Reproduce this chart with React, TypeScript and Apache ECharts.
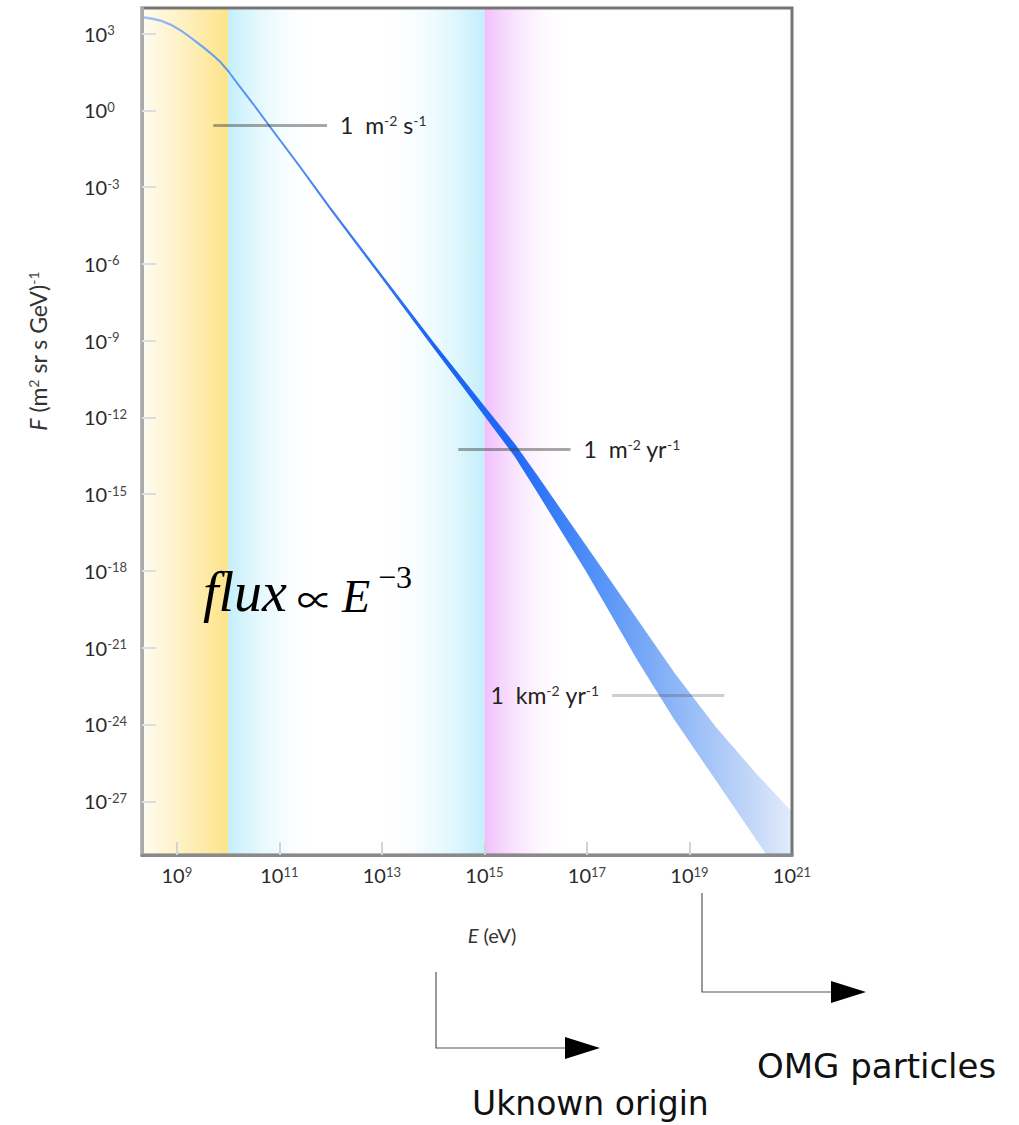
import React, { useEffect, useRef } from "react";
import * as echarts from "echarts";

// log10(E / eV)
const energyLog = [8.32, 8.5, 8.7, 8.9, 9.1, 9.3, 9.5, 9.7, 9.85, 10.0, 10.2, 10.5, 10.8, 11.4, 12, 13, 14, 14.5, 15, 15.6, 16, 17, 18, 18.7, 19.5, 20.3, 21];
// log10 of flux band edges (m^-2 sr^-1 s^-1 GeV^-1)
const fluxLowLog = [3.62, 3.57, 3.48, 3.31, 3.07, 2.78, 2.47, 2.14, 1.87, 1.52, 0.98, 0.2, -0.62, -2.22, -3.88, -6.54, -9.23, -10.56, -11.9, -13.51, -14.78, -18.03, -21.5, -23.75, -26.1, -28.45, -30.5];
const fluxHighLog = [3.66, 3.61, 3.52, 3.35, 3.11, 2.82, 2.51, 2.18, 1.91, 1.56, 1.02, 0.24, -0.58, -2.18, -3.82, -6.46, -9.08, -10.34, -11.6, -13.09, -14.22, -17.1, -19.98, -22.0, -24.1, -25.95, -27.45];

const yTickExps = [3, 0, -3, -6, -9, -12, -15, -18, -21, -24, -27];
const xTickExps = [9, 11, 13, 15, 17, 19];
const xLabelExps = [9, 11, 13, 15, 17, 19, 21];

// energy regions (log10 E)
const yellowBand = [8.32, 10];
const cyanFadeBand = [10, 11.8];
const cyanRiseBand = [12.9, 15];
const pinkBand = [15, 16.7];

// rate reference lines
const rateLabels = ["{t|1  m}{u|-2}{t| s}{u|-1}", "{t|1  m}{u|-2}{t| yr}{u|-1}", "{t|1  km}{u|-2}{t| yr}{u|-1}"];
const rateFluxLog = [-0.58, -13.24, -22.85];
const rateFrom = [9.71, 14.49, 17.49];
const rateTo = [11.93, 16.68, 19.68];

const X_MIN = 8.32;
const X_MAX = 21;
const Y_MIN = -29.1;
const Y_MAX = 4;

export default function App() {
  const ref = useRef<HTMLDivElement>(null);

  useEffect(() => {
    const chart = echarts.init(ref.current!, null, { renderer: "svg" });
    const hGrad = (stops: { offset: number; color: string }[]) =>
      new echarts.graphic.LinearGradient(0, 0, 1, 0, stops);
    const bandStops = () => [
      { offset: 0, color: "#a3c2f4" },
      { offset: 0.13, color: "#6097f1" },
      { offset: 0.29, color: "#4483f2" },
      { offset: 0.45, color: "#1a64f2" },
      { offset: 0.57, color: "#1f68f5" },
      { offset: 0.68, color: "#4b8cf8" },
      { offset: 0.82, color: "#8db6f7" },
      { offset: 0.94, color: "#c4d8f8" },
      { offset: 1, color: "#e2ecfb" },
    ];
    const supFmt = (v: number) => `{b|10}{s|${Math.round(v)}}`;
    const tickRich = {
      b: { fontSize: 20, fontFamily: "Lato", color: "#2a2a2a" },
      s: { fontSize: 13, fontFamily: "Lato", color: "#444", verticalAlign: "top" },
    };

    const rateLines = rateLabels.map((lab, i) => [
      {
        coord: [rateFrom[i], rateFluxLog[i]],
        lineStyle: { color: i === 2 ? "rgba(60,60,60,0.25)" : "rgba(60,60,60,0.45)" },
        label: { formatter: lab, position: i === 2 ? "start" : "end", distance: 13 },
      },
      { coord: [rateTo[i], rateFluxLog[i]] },
    ]);

    const option: any = {
      animation: false,
      grid: {
        left: 142,
        top: 8,
        width: 650,
        height: 847,
        show: true,
        borderColor: "#757575",
        borderWidth: 3,
        backgroundColor: "transparent",
        z: 10,
      },
      xAxis: {
        type: "value",
        min: X_MIN,
        max: X_MAX,
        z: 11,
        axisLine: { show: true, onZero: false, lineStyle: { color: "#8a8a8a", width: 3 } },
        axisTick: { show: true, inside: true, length: 13, customValues: xTickExps, lineStyle: { color: "#d4d4d4", width: 2 } },
        axisLabel: { customValues: xLabelExps, margin: 10, formatter: supFmt, rich: tickRich },
        splitLine: { show: false },
        name: "{i|E} (eV)",
        nameLocation: "middle",
        nameGap: 70,
        nameTextStyle: {
          fontSize: 20,
          fontFamily: "Lato",
          color: "#333",
          padding: [0, 0, 0, 50],
          rich: { i: { fontSize: 20, fontFamily: "Lato", fontStyle: "italic", color: "#333" } },
        },
      },
      yAxis: {
        type: "value",
        min: Y_MIN,
        max: Y_MAX,
        z: 11,
        axisLine: { show: true, onZero: false, lineStyle: { color: "#aaaaaa", width: 3 } },
        axisTick: { show: true, inside: true, length: 14, customValues: yTickExps, lineStyle: { color: "#dddddd", width: 2 } },
        axisLabel: { customValues: yTickExps, margin: 58, align: "left", formatter: supFmt, rich: tickRich },
        splitLine: { show: false },
      },
      series: [
        {
          type: "line",
          name: "regions",
          data: [],
          z: 1,
          silent: true,
          markArea: {
            silent: true,
            data: [
              [
                {
                  xAxis: yellowBand[0],
                  itemStyle: {
                    color: hGrad([
                      { offset: 0, color: "#fffcf2" },
                      { offset: 1, color: "#fde48a" },
                    ]),
                  },
                },
                { xAxis: yellowBand[1] },
              ],
              [
                {
                  xAxis: cyanFadeBand[0],
                  itemStyle: {
                    color: hGrad([
                      { offset: 0, color: "#c3effb" },
                      { offset: 1, color: "rgba(255,255,255,0)" },
                    ]),
                  },
                },
                { xAxis: cyanFadeBand[1] },
              ],
              [
                {
                  xAxis: cyanRiseBand[0],
                  itemStyle: {
                    color: hGrad([
                      { offset: 0, color: "rgba(255,255,255,0)" },
                      { offset: 1, color: "#c3effb" },
                    ]),
                  },
                },
                { xAxis: cyanRiseBand[1] },
              ],
              [
                {
                  xAxis: pinkBand[0],
                  itemStyle: {
                    color: hGrad([
                      { offset: 0, color: "#f0befc" },
                      { offset: 1, color: "rgba(255,255,255,0)" },
                    ]),
                  },
                },
                { xAxis: pinkBand[1] },
              ],
            ],
          },
        },
        {
          type: "custom",
          name: "flux band",
          coordinateSystem: "cartesian2d",
          clip: true,
          z: 3,
          silent: true,
          data: [[energyLog[0], fluxHighLog[0]]],
          encode: { x: 0, y: 1 },
          renderItem: (_params: any, api: any) => {
            const upper = energyLog.map((e, i) => api.coord([e, fluxHighLog[i]]));
            const lower = energyLog.map((e, i) => api.coord([e, fluxLowLog[i]])).reverse();
            return {
              type: "polygon",
              shape: { points: upper.concat(lower) },
              style: { fill: hGrad(bandStops()), stroke: hGrad(bandStops()), lineWidth: 1.3 },
            };
          },
        },
        {
          type: "line",
          name: "rates",
          data: [],
          z: 5,
          markLine: {
            silent: true,
            symbol: ["none", "none"],
            lineStyle: { type: "solid", width: 3, color: "rgba(60,60,60,0.45)" },
            label: {
              show: true,
              rich: {
                t: { fontSize: 23, fontFamily: "Lato", color: "#222" },
                u: { fontSize: 14, fontFamily: "Lato", color: "#333", verticalAlign: "top" },
              },
            },
            data: rateLines,
          },
        },
      ],
      graphic: [
        {
          type: "text",
          x: 38,
          y: 351,
          z: 100,
          rotation: Math.PI / 2,
          style: {
            text: "{i|F} (m{s|2} sr s GeV){s|-1}",
            align: "center",
            verticalAlign: "middle",
            fontSize: 23,
            fontFamily: "Lato",
            fill: "#333",
            rich: {
              i: { fontSize: 23, fontFamily: "Lato", fontStyle: "italic", fill: "#333" },
              s: { fontSize: 14, fontFamily: "Lato", fill: "#444", verticalAlign: "top" },
            },
          },
        },
        {
          type: "text",
          x: 203,
          y: 592,
          z: 100,
          style: { text: "flux", fontSize: 56, fontStyle: "italic", fontFamily: "Liberation Serif", fill: "#000", verticalAlign: "middle" },
        },
        {
          type: "text",
          x: 297,
          y: 598,
          z: 100,
          style: { text: "\u221d", fontSize: 36, fontFamily: "Noto Sans CJK JP", fill: "#000", verticalAlign: "middle" },
        },
        {
          type: "text",
          x: 342,
          y: 596,
          z: 100,
          style: { text: "E", fontSize: 46, fontStyle: "italic", fontFamily: "Liberation Serif", fill: "#000", verticalAlign: "middle" },
        },
        {
          type: "text",
          x: 378,
          y: 577,
          z: 100,
          style: { text: "\u22123", fontSize: 32, fontFamily: "Liberation Serif", fill: "#000", verticalAlign: "middle" },
        },
        {
          type: "polyline",
          z: 100,
          shape: { points: [[436, 972], [436, 1048], [568, 1048]] },
          style: { stroke: "#555", lineWidth: 1.2, fill: "none" },
        },
        {
          type: "polygon",
          z: 100,
          shape: { points: [[565, 1037], [600, 1048], [565, 1059]] },
          style: { fill: "#000" },
        },
        {
          type: "polyline",
          z: 100,
          shape: { points: [[702, 893], [702, 992], [834, 992]] },
          style: { stroke: "#555", lineWidth: 1.2, fill: "none" },
        },
        {
          type: "polygon",
          z: 100,
          shape: { points: [[831, 981], [866, 992], [831, 1003]] },
          style: { fill: "#000" },
        },
        {
          type: "text",
          x: 757,
          y: 1066,
          z: 100,
          style: { text: "OMG particles", fontSize: 34, fontFamily: "DejaVu Sans", fill: "#111", verticalAlign: "middle" },
        },
        {
          type: "text",
          x: 472,
          y: 1103,
          z: 100,
          style: { text: "Uknown origin", fontSize: 33, fontFamily: "DejaVu Sans", fill: "#111", verticalAlign: "middle" },
        },
      ],
    };
    chart.setOption(option);
    return () => chart.dispose();
  }, []);

  return (
    <div
      ref={ref}
      style={{ position: "fixed", left: 0, top: 0, width: 1019, height: 1125, background: "#fff" }}
    />
  );
}
